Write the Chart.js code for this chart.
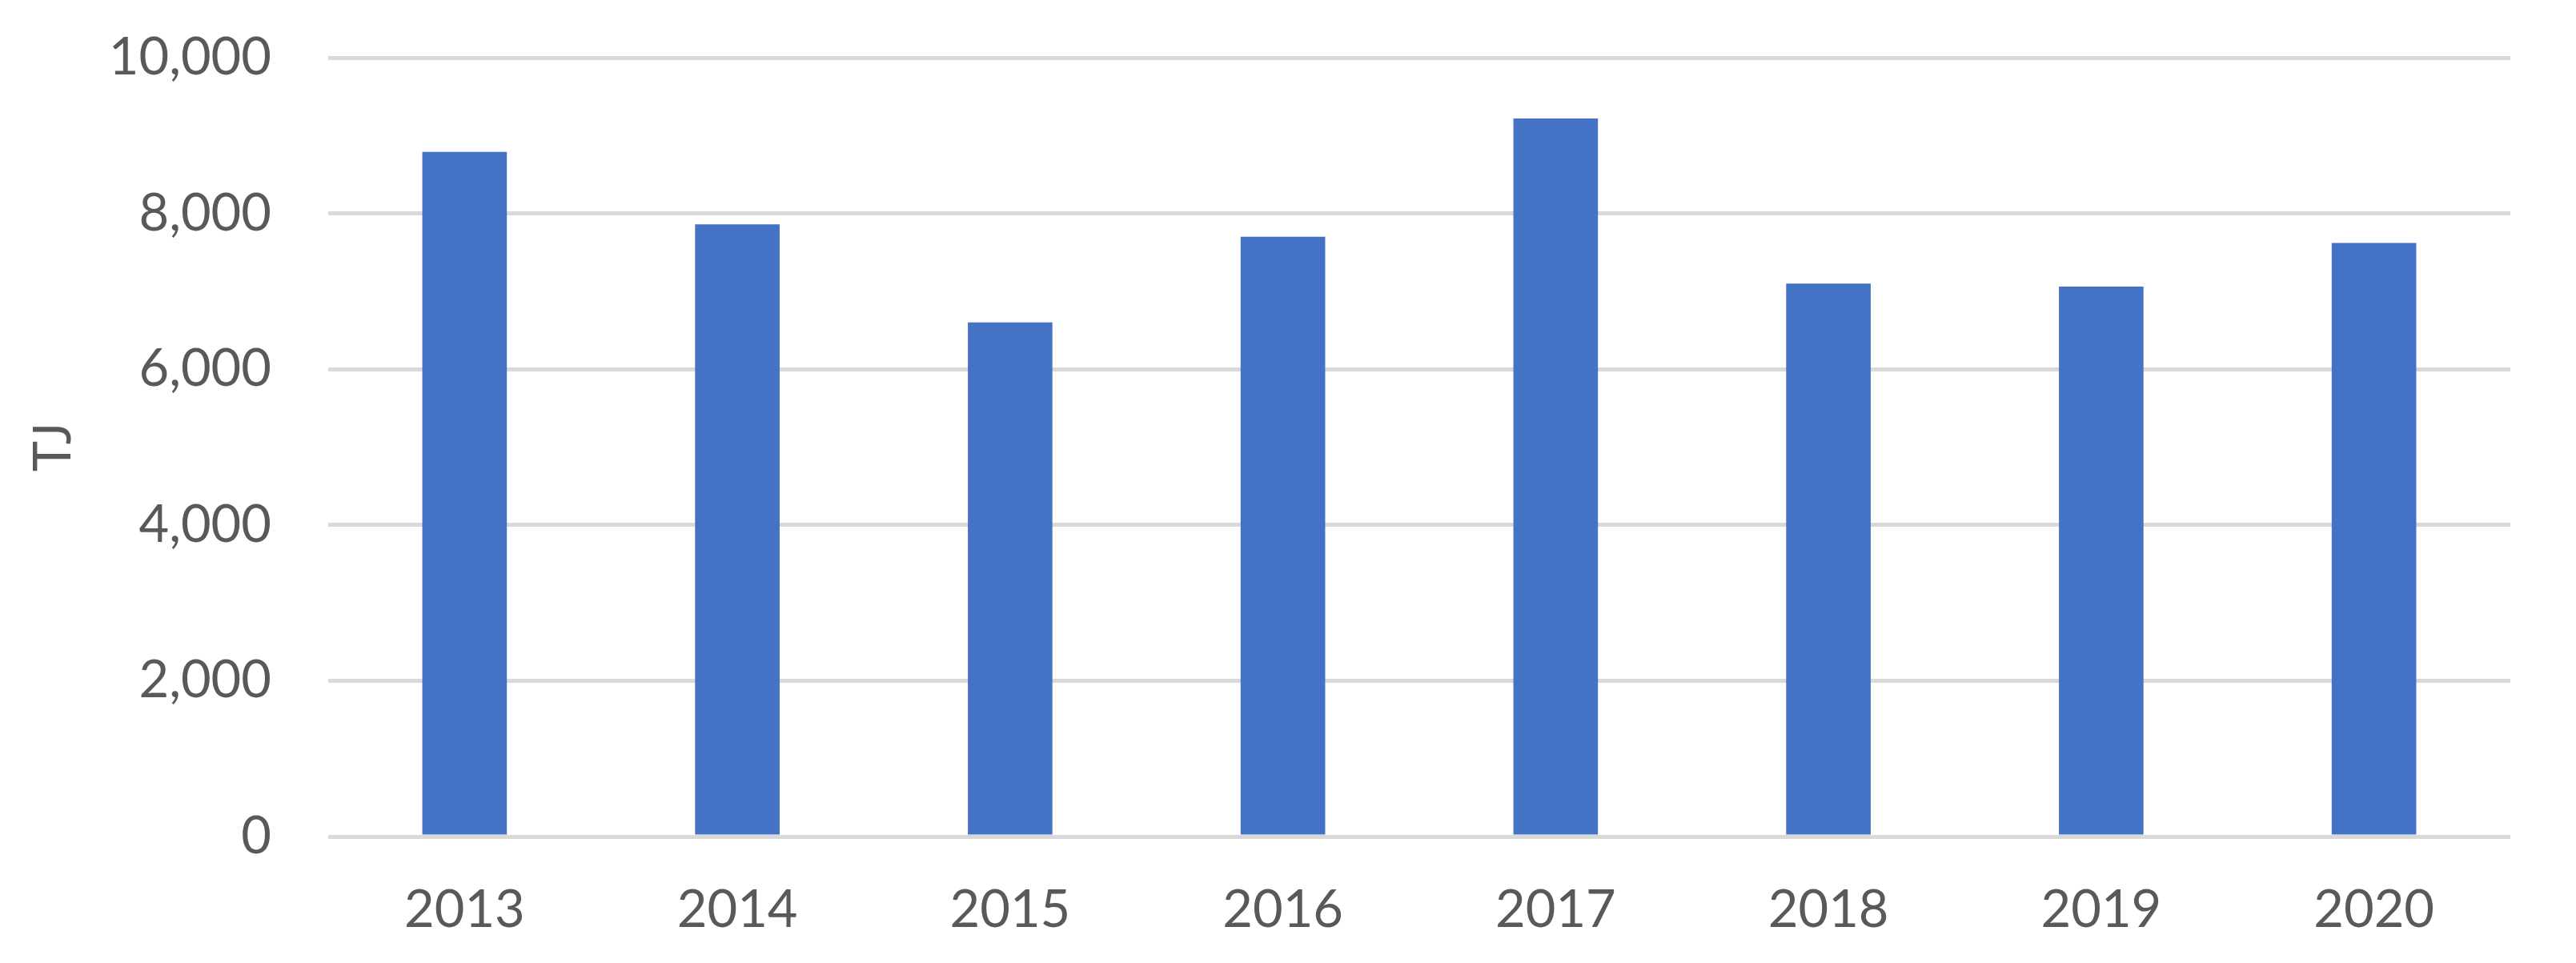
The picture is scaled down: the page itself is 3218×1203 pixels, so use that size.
<!DOCTYPE html>
<html>
<head>
<meta charset="utf-8">
<style>
  html, body { margin: 0; padding: 0; background: #ffffff; }
  #wrap { width: 3218px; height: 1203px; }
</style>
<script src="https://cdn.jsdelivr.net/npm/chart.js@4/dist/chart.umd.min.js"></script>
</head>
<body>
<div id="wrap"><canvas id="c" width="3218" height="1203"></canvas></div>
<script>
const years = ['2013', '2014', '2015', '2016', '2017', '2018', '2019', '2020'];
const energyTJ = [8790, 7860, 6600, 7700, 9220, 7100, 7060, 7620];
const yTicks = [0, 2000, 4000, 6000, 8000, 10000];
const yTitle = 'TJ';

const FONT = 'Lato, "Open Sans", "Liberation Sans", sans-serif';
const TEXT = '#595959';

new Chart(document.getElementById('c'), {
  type: 'bar',
  data: {
    labels: years,
    datasets: [{
      data: energyTJ,
      backgroundColor: '#4472C4',
      borderWidth: 0,
      categoryPercentage: 1.0,
      barPercentage: 0.31
    }]
  },
  options: {
    responsive: false,
    animation: false,
    devicePixelRatio: 1,
    layout: { padding: { top: 72, right: 82, bottom: 0, left: 0 } },
    plugins: { legend: { display: false }, tooltip: { enabled: false } },
    scales: {
      x: {
        grid: { display: false },
        border: { display: false },
        ticks: {
          color: TEXT,
          font: { family: FONT, size: 65 },
          padding: 45,
          maxRotation: 0
        },
        afterFit: (s) => { s.height = 158; s.paddingLeft = 0; s.paddingRight = 0; }
      },
      y: {
        min: yTicks[0],
        max: yTicks[yTicks.length - 1],
        afterBuildTicks: (s) => { s.ticks = yTicks.map(v => ({ value: v })); },
        grid: { color: '#d9d9d9', lineWidth: 5, drawTicks: false },
        border: { display: false },
        ticks: {
          color: TEXT,
          font: { family: FONT, size: 65 },
          padding: 71,
          callback: (v) => Number(v).toLocaleString('en-US')
        },
        title: {
          display: true,
          text: yTitle,
          color: TEXT,
          font: { family: FONT, size: 65 },
          padding: { top: 28, bottom: 0 }
        },
        afterFit: (s) => { s.width = 410; s.paddingTop = 0; s.paddingBottom = 0; }
      }
    }
  }
});
</script>
</body>
</html>
